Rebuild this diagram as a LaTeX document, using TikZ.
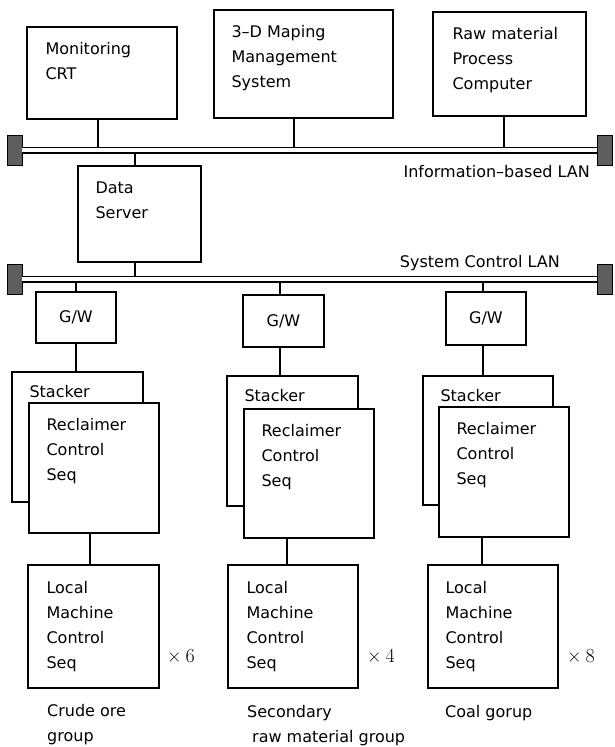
\documentclass[tikz,border=0pt]{standalone}
\usepackage{fontspec}
\setmainfont{DejaVu Sans}
\newfontfamily\lmrfont{Latin Modern Roman}
\definecolor{capgray}{gray}{0.37}

\begin{document}
\begin{tikzpicture}[x=1pt,y=-1pt]
  \tikzstyle{box}=[draw, line width=1.3pt, inner sep=0pt, fill=white, font=\fontsize{16}{25}\selectfont]
  \tikzstyle{txt}=[anchor=north west, align=left, inner sep=0pt, font=\fontsize{16}{25}\selectfont]
  \tikzstyle{lan}=[double, double distance=3.8pt, line width=1.6pt]
  \tikzstyle{lancap}=[draw, fill=capgray, line width=0.8pt, minimum width=15pt, minimum height=30pt, inner sep=0pt]
  \tikzstyle{wire}=[line width=1.3pt]
  \tikzstyle{times}=[anchor=west, inner sep=0pt, font=\lmrfont\fontsize{20}{20}\selectfont]
  \useasboundingbox (0,0) rectangle (614,747);

  % top row
  \node[box, minimum width=150pt, minimum height=92pt] (mon) at (102,73) {};
  \node[txt] (mon-t) at ([shift={(19,16)}]mon.north west) {Monitoring\\CRT};
  \node[box, minimum width=179pt, minimum height=108pt] (map) at (303.5,64) {};
  \node[txt] (map-t) at ([shift={(18,16)}]map.north west) {3–D Maping\\Management\\System};
  \node[box, minimum width=153pt, minimum height=104pt] (raw) at (509.5,64) {};
  \node[txt] (raw-t) at ([shift={(20,16)}]raw.north west) {Raw material\\Process\\Computer};

  % information LAN
  \node[lancap] (capIL) at (14.5,150) {};
  \node[lancap] (capIR) at (605,150) {};
  \node[txt, anchor=east] (lanI-l) at (590,172) {Information–based LAN};

  \node[box, minimum width=123pt, minimum height=96pt] (srv) at (139.5,214) {};
  \node[txt] (srv-t) at ([shift={(18,16)}]srv.north west) {Data\\Server};

  % system control LAN
  \node[lancap] (capSL) at (14.5,279) {};
  \node[lancap] (capSR) at (605,279) {};
  \node[txt, anchor=east] (lanS-l) at (560,263) {System Control LAN};

  % groups
  \node[box, minimum width=80pt, minimum height=51pt] (gw1) at (76,317.5) {G/W};
  \node[box, minimum width=81pt, minimum height=52pt] (gw2) at (283.5,321) {G/W};
  \node[box, minimum width=80pt, minimum height=53pt] (gw3) at (486,318.5) {G/W};

  \node[box, minimum width=131pt, minimum height=130pt] (st1) at (77.5,437) {};
  \node[txt] (st1-t) at ([shift={(18,14)}]st1.north west) {Stacker};
  \node[box, minimum width=130pt, minimum height=130pt] (rc1) at (94,468) {};
  \node[txt] (rc1-t) at ([shift={(18,16)}]rc1.north west) {Reclaimer\\Control\\Seq};
  \node[box, minimum width=131pt, minimum height=130pt] (st2) at (292.5,441) {};
  \node[txt] (st2-t) at ([shift={(18,14)}]st2.north west) {Stacker};
  \node[box, minimum width=130pt, minimum height=129pt] (rc2) at (309,473.5) {};
  \node[txt] (rc2-t) at ([shift={(18,16)}]rc2.north west) {Reclaimer\\Control\\Seq};
  \node[box, minimum width=130pt, minimum height=129pt] (st3) at (488,440.5) {};
  \node[txt] (st3-t) at ([shift={(18,14)}]st3.north west) {Stacker};
  \node[box, minimum width=130pt, minimum height=130pt] (rc3) at (504,472) {};
  \node[txt] (rc3-t) at ([shift={(18,16)}]rc3.north west) {Reclaimer\\Control\\Seq};

  \node[box, minimum width=131pt, minimum height=123pt] (loc1) at (93.5,626.5) {};
  \node[txt] (loc1-t) at ([shift={(19,17)}]loc1.north west) {Local\\Machine\\Control\\Seq};
  \node[box, minimum width=130pt, minimum height=123pt] (loc2) at (293,626.5) {};
  \node[txt] (loc2-t) at ([shift={(19,17)}]loc2.north west) {Local\\Machine\\Control\\Seq};
  \node[box, minimum width=130pt, minimum height=123pt] (loc3) at (493,626.5) {};
  \node[txt] (loc3-t) at ([shift={(18,17)}]loc3.north west) {Local\\Machine\\Control\\Seq};

  \node[times] (x6) at (167,656) {×\hspace{4pt}6};
  \node[times] (x4) at (367,656) {×\hspace{4pt}4};
  \node[times] (x8) at (567,656) {×\hspace{4pt}8};

  \node[txt] (g1) at (47,704) {Crude ore\\group};
  \node[txt] (g2) at (247,705) {Secondary\\\hspace{5pt}raw material group};
  \node[txt] (g3) at (445,705) {Coal gorup};

  % connectors
  \coordinate (mon-p) at ([xshift=-4pt]mon.south);
  \coordinate (map-p) at ([xshift=-9.5pt]map.south);
  \coordinate (raw-p) at ([xshift=-5.5pt]raw.south);
  \coordinate (srv-q) at ([xshift=-4.5pt]srv.north);
  \coordinate (srv-p) at ([xshift=-4.5pt]srv.south);
  \draw[wire] (mon-p) -- (mon-p |- capIL);
  \draw[wire] (map-p) -- (map-p |- capIL);
  \draw[wire] (raw-p) -- (raw-p |- capIL);
  \draw[wire] (srv-q) -- (srv-q |- capIL);
  \draw[wire] (srv-p) -- (srv-p |- capSL);

  \coordinate (gw2-p) at ([xshift=-3.5pt]gw2.north);
  \coordinate (gw2-q) at ([xshift=-3.5pt]gw2.south);
  \coordinate (gw3-p) at ([xshift=-3pt]gw3.north);
  \coordinate (gw3-q) at ([xshift=-3pt]gw3.south);
  \draw[wire] (gw1.north) -- (gw1.north |- capSL);
  \draw[wire] (gw2-p) -- (gw2-p |- capSL);
  \draw[wire] (gw3-p) -- (gw3-p |- capSL);
  \draw[wire] (gw1.south) -- (gw1.south |- st1.north);
  \draw[wire] (gw2-q) -- (gw2-q |- st2.north);
  \draw[wire] (gw3-q) -- (gw3-q |- st3.north);

  \coordinate (loc1-p) at ([xshift=-3.5pt]loc1.north);
  \coordinate (loc2-p) at ([xshift=-6pt]loc2.north);
  \coordinate (loc3-p) at ([xshift=-11pt]loc3.north);
  \draw[wire] (loc1-p) -- (loc1-p |- rc1.south);
  \draw[wire] (loc2-p) -- (loc2-p |- rc2.south);
  \draw[wire] (loc3-p) -- (loc3-p |- rc3.south);

  % the two buses
  \draw[lan] (capIL.east) -- (capIR.west);
  \draw[lan] (capSL.east) -- (capSR.west);
\end{tikzpicture}
\end{document}
